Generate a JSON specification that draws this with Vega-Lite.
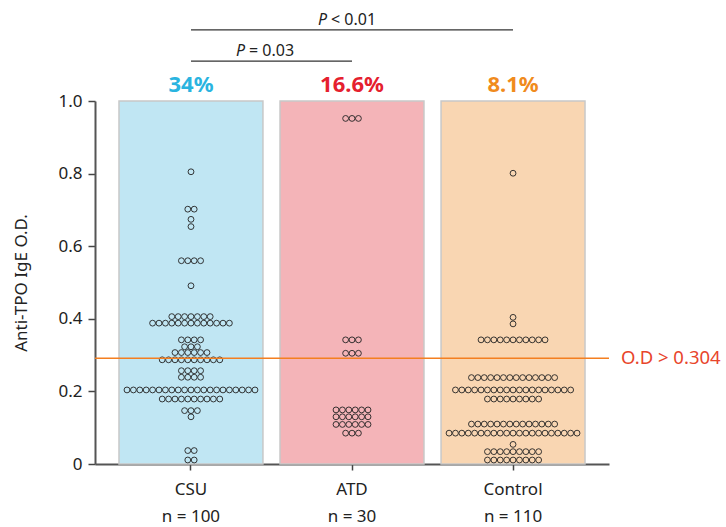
{
  "$schema": "https://vega.github.io/schema/vega-lite/v6.json",
  "width": 514,
  "height": 363,
  "autosize": {"type": "none"},
  "padding": {"left": 95, "top": 101, "right": 117, "bottom": 63},
  "background": "white",
  "config": {"view": {"stroke": null}, "font": "Noto Sans"},
  "resolve": {"scale": {"xOffset": "independent"}},
  "data": {"values": [
    {"g": "CSU", "top": 1, "pct": "34%"},
    {"g": "ATD", "top": 1, "pct": "16.6%"},
    {"g": "Control", "top": 1, "pct": "8.1%"}
  ]},
  "layer": [
    {
      "mark": {"type": "bar", "stroke": "#c8c8c8", "strokeWidth": 1.5, "width": {"band": 1}},
      "encoding": {
        "x": {
          "field": "g", "type": "nominal",
          "sort": ["CSU", "ATD", "Control"],
          "scale": {"domain": ["CSU", "ATD", "Control"], "paddingInner": 0.106, "paddingOuter": 0.149},
          "axis": {
            "title": null, "labelAngle": 0, "labelFontSize": 17, "labelColor": "#222",
            "labelLineHeight": 27, "labelPadding": 11, "tickSize": 6, "tickColor": "#444", "tickWidth": 1.5,
            "domainColor": "#555", "domainWidth": 2,
            "labelExpr": "datum.label == 'CSU' ? ['CSU', 'n = 100'] : datum.label == 'ATD' ? ['ATD', 'n = 30'] : ['Control', 'n = 110']"
          }
        },
        "y": {
          "field": "top", "type": "quantitative",
          "scale": {"domain": [0, 1], "nice": false},
          "axis": {
            "title": "Anti-TPO IgE O.D.", "titleFontSize": 17, "titleFontWeight": "normal", "titleColor": "#222",
            "titlePadding": 27,
            "values": [0, 0.2, 0.4, 0.6, 0.8, 1],
            "labelExpr": "datum.value == 0 ? '0' : format(datum.value, '.1f')",
            "labelFontSize": 17, "labelColor": "#222", "labelPadding": 6,
            "tickSize": 7, "tickColor": "#444", "tickWidth": 1.5,
            "grid": false, "domainColor": "#555", "domainWidth": 2
          }
        },
        "fill": {
          "field": "g", "type": "nominal",
          "scale": {"domain": ["CSU", "ATD", "Control"], "range": ["#c0e6f3", "#f4b4b8", "#f9d6b2"]},
          "legend": null
        }
      }
    },
    {
      "mark": {"type": "text", "fontWeight": "bold", "fontSize": 22, "baseline": "middle"},
      "encoding": {
        "x": {"field": "g", "type": "nominal"},
        "y": {"datum": 1.044, "type": "quantitative"},
        "text": {"field": "pct"},
        "color": {
          "field": "g", "type": "nominal",
          "scale": {"domain": ["CSU", "ATD", "Control"], "range": ["#2ab4e0", "#e5202e", "#f08b1d"]},
          "legend": null
        }
      }
    },
    {
      "data": {"values": [
        {"g": "CSU", "v": 0.805, "ks": [0]},
        {"g": "CSU", "v": 0.702, "ks": [-0.5, 0.5]},
        {"g": "CSU", "v": 0.674, "ks": [0]},
        {"g": "CSU", "v": 0.654, "ks": [0]},
        {"g": "CSU", "v": 0.560, "ks": [-1.5, -0.5, 0.5, 1.5]},
        {"g": "CSU", "v": 0.491, "ks": [0]},
        {"g": "CSU", "v": 0.406, "ks": [-3, -2, -1, 0, 1, 2, 3]},
        {"g": "CSU", "v": 0.388, "ks": [-6, -5, -4, -3, -2, -1, 0, 1, 2, 3, 4, 5, 6]},
        {"g": "CSU", "v": 0.342, "ks": [-1.5, -0.5, 0.5, 1.5]},
        {"g": "CSU", "v": 0.323, "ks": [-1, 0, 1]},
        {"g": "CSU", "v": 0.307, "ks": [-2.5, -1.5, -0.5, 0.5, 1.5, 2.5]},
        {"g": "CSU", "v": 0.287, "ks": [-4.5, -3.5, -2.5, -1.5, -0.5, 0.5, 1.5, 2.5, 3.5, 4.5]},
        {"g": "CSU", "v": 0.257, "ks": [-1.5, -0.5, 0.5, 1.5]},
        {"g": "CSU", "v": 0.239, "ks": [-1.5, -0.5, 0.5, 1.5]},
        {"g": "CSU", "v": 0.204, "ks": [-10, -9, -8, -7, -6, -5, -4, -3, -2, -1, 0, 1, 2, 3, 4, 5, 6, 7, 8, 9, 10]},
        {"g": "CSU", "v": 0.179, "ks": [-4.5, -3.5, -2.5, -1.5, -0.5, 0.5, 1.5, 2.5, 3.5, 4.5]},
        {"g": "CSU", "v": 0.147, "ks": [-1, 0, 1]},
        {"g": "CSU", "v": 0.130, "ks": [0]},
        {"g": "CSU", "v": 0.037, "ks": [-0.5, 0.5]},
        {"g": "CSU", "v": 0.011, "ks": [-0.5, 0.5]},
        {"g": "ATD", "v": 0.952, "ks": [-1, 0, 1]},
        {"g": "ATD", "v": 0.342, "ks": [-1, 0, 1]},
        {"g": "ATD", "v": 0.305, "ks": [-1, 0, 1]},
        {"g": "ATD", "v": 0.149, "ks": [-2.5, -1.5, -0.5, 0.5, 1.5, 2.5]},
        {"g": "ATD", "v": 0.130, "ks": [-2.5, -1.5, -0.5, 0.5, 1.5, 2.5]},
        {"g": "ATD", "v": 0.109, "ks": [-2.5, -1.5, -0.5, 0.5, 1.5, 2.5]},
        {"g": "ATD", "v": 0.085, "ks": [-1, 0, 1]},
        {"g": "Control", "v": 0.801, "ks": [0]},
        {"g": "Control", "v": 0.404, "ks": [0]},
        {"g": "Control", "v": 0.386, "ks": [0]},
        {"g": "Control", "v": 0.342, "ks": [-5, -4, -3, -2, -1, 0, 1, 2, 3, 4, 5]},
        {"g": "Control", "v": 0.238, "ks": [-6.5, -5.5, -4.5, -3.5, -2.5, -1.5, -0.5, 0.5, 1.5, 2.5, 3.5, 4.5, 5.5, 6.5]},
        {"g": "Control", "v": 0.204, "ks": [-9, -8, -7, -6, -5, -4, -3, -2, -1, 0, 1, 2, 3, 4, 5, 6, 7, 8, 9]},
        {"g": "Control", "v": 0.179, "ks": [-4, -3, -2, -1, 0, 1, 2, 3, 4]},
        {"g": "Control", "v": 0.110, "ks": [-6.5, -5.5, -4.5, -3.5, -2.5, -1.5, -0.5, 0.5, 1.5, 2.5, 3.5, 4.5, 5.5, 6.5]},
        {"g": "Control", "v": 0.085, "ks": [-10, -9, -8, -7, -6, -5, -4, -3, -2, -1, 0, 1, 2, 3, 4, 5, 6, 7, 8, 9, 10]},
        {"g": "Control", "v": 0.054, "ks": [0]},
        {"g": "Control", "v": 0.034, "ks": [-4, -3, -2, -1, 0, 1, 2, 3, 4]},
        {"g": "Control", "v": 0.011, "ks": [-4, -3, -2, -1, 0, 1, 2, 3, 4]}
      ]},
      "transform": [{"flatten": ["ks"], "as": ["k"]}],
      "mark": {"type": "point", "shape": "circle", "filled": false, "stroke": "#222", "strokeWidth": 0.9, "size": 34, "opacity": 1},
      "encoding": {
        "x": {"field": "g", "type": "nominal"},
        "xOffset": {"field": "k", "type": "quantitative", "scale": {"domain": [-11.25, 11.25], "range": [0, 144]}},
        "y": {"field": "v", "type": "quantitative"}
      }
    },
    {
      "data": {"values": [{}]},
      "mark": {"type": "rule", "color": "#f47f20", "strokeWidth": 1.5},
      "encoding": {"y": {"datum": 0.291, "type": "quantitative"}}
    },
    {
      "data": {"values": [{}]},
      "mark": {"type": "text", "align": "left", "baseline": "middle", "fontSize": 18.5, "color": "#e8452b"},
      "encoding": {
        "x": {"datum": "Control", "type": "nominal", "bandPosition": 1.25},
        "y": {"datum": 0.291, "type": "quantitative"},
        "text": {"value": "O.D > 0.304"}
      }
    },
    {
      "data": {"values": [
        {"a": "CSU", "b": "ATD", "lv": 1.11},
        {"a": "CSU", "b": "Control", "lv": 1.196}
      ]},
      "mark": {"type": "rule", "color": "#333", "strokeWidth": 1.3},
      "encoding": {
        "x": {"field": "a", "type": "nominal", "bandPosition": 0.5},
        "x2": {"field": "b"},
        "y": {"field": "lv", "type": "quantitative"}
      }
    },
    {
      "data": {"values": [{}]},
      "mark": {"type": "text", "align": "right", "baseline": "middle", "fontSize": 16, "fontStyle": "italic", "color": "#222", "dx": -25},
      "encoding": {
        "x": {"datum": "ATD", "type": "nominal", "bandPosition": 0.5},
        "y": {"datum": 1.223, "type": "quantitative"},
        "text": {"value": "P"}
      }
    },
    {
      "data": {"values": [{}]},
      "mark": {"type": "text", "align": "left", "baseline": "middle", "fontSize": 16, "color": "#222", "dx": -21},
      "encoding": {
        "x": {"datum": "ATD", "type": "nominal", "bandPosition": 0.5},
        "y": {"datum": 1.223, "type": "quantitative"},
        "text": {"value": "< 0.01"}
      }
    },
    {
      "data": {"values": [{}]},
      "mark": {"type": "text", "align": "right", "baseline": "middle", "fontSize": 16, "fontStyle": "italic", "color": "#222", "dx": -26},
      "encoding": {
        "x": {"datum": "ATD", "type": "nominal", "bandPosition": -0.0625},
        "y": {"datum": 1.139, "type": "quantitative"},
        "text": {"value": "P"}
      }
    },
    {
      "data": {"values": [{}]},
      "mark": {"type": "text", "align": "left", "baseline": "middle", "fontSize": 16, "color": "#222", "dx": -22},
      "encoding": {
        "x": {"datum": "ATD", "type": "nominal", "bandPosition": -0.0625},
        "y": {"datum": 1.139, "type": "quantitative"},
        "text": {"value": "= 0.03"}
      }
    }
  ]
}
